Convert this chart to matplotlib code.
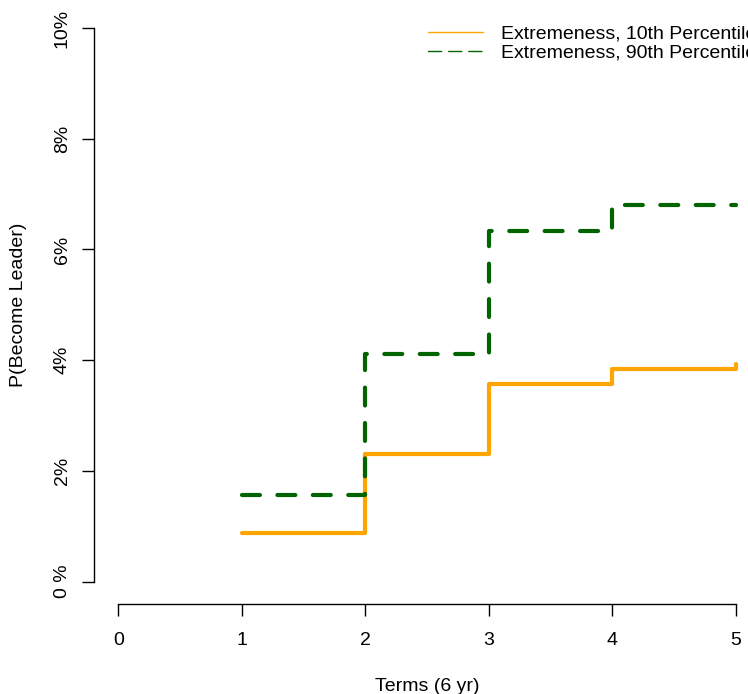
import matplotlib
matplotlib.use("Agg")
import matplotlib.pyplot as plt

# data
terms = [1, 2, 3, 4, 5]
p_10th = [0.87, 2.31, 3.57, 3.84, 3.94]
p_90th = [1.56, 4.11, 6.33, 6.80, 6.80]
x_ticks = [0, 1, 2, 3, 4, 5]
y_ticks = [0, 2, 4, 6, 8, 10]
y_labels = ["0 %", "2%", "4%", "6%", "8%", "10%"]

plt.rcParams['font.family'] = ['Liberation Sans', 'DejaVu Sans']
fs = 14

fig = plt.figure(figsize=(7.48, 6.94), dpi=100)
ax = fig.add_axes([0.1251, 0.13, 0.8918, 0.8615])

ax.step(terms, p_10th, where='post', color='orange', linewidth=3,
        solid_joinstyle='round', solid_capstyle='round',
        label='Extremeness, 10th Percentile')
ax.step(terms, p_90th, where='post', color='darkgreen', linewidth=3,
        dashes=(4.3, 4.2), dash_capstyle='round', dash_joinstyle='round',
        label='Extremeness, 90th Percentile')

ax.set_xlim(-0.2, 5.2)
ax.set_ylim(-0.4, 10.4)

# R-like axes
for s in ['top', 'right']:
    ax.spines[s].set_visible(False)
ax.spines['left'].set_bounds(0, 10)
ax.spines['bottom'].set_bounds(0, 5)
ax.spines['left'].set_linewidth(1)
ax.spines['bottom'].set_linewidth(1)

ax.set_xticks(x_ticks)
ax.set_xticklabels([str(t) for t in x_ticks])
ax.set_yticks(y_ticks)
ax.set_yticklabels(y_labels, rotation=90, va='center')
ax.tick_params(axis='both', length=8.5, width=1, labelsize=fs)
ax.tick_params(axis='y', pad=8)
ax.tick_params(axis='x', pad=11.5)

ax.set_xlabel('Terms (6 yr)', fontsize=fs, labelpad=21)
ax.set_ylabel('P(Become Leader)', fontsize=fs, labelpad=19)

leg = ax.legend(loc='upper left', bbox_to_anchor=(428 / 748, 1 - 25 / 694),
                bbox_transform=fig.transFigure, frameon=False, fontsize=fs,
                handlelength=2.85, handletextpad=0.93, labelspacing=0.08,
                borderpad=0, borderaxespad=0)
leg_lines = leg.get_lines()
for line in leg_lines:
    line.set_linewidth(1)
leg_lines[1].set_dashes((9.5, 5))

fig.savefig('out.png', dpi=100)
